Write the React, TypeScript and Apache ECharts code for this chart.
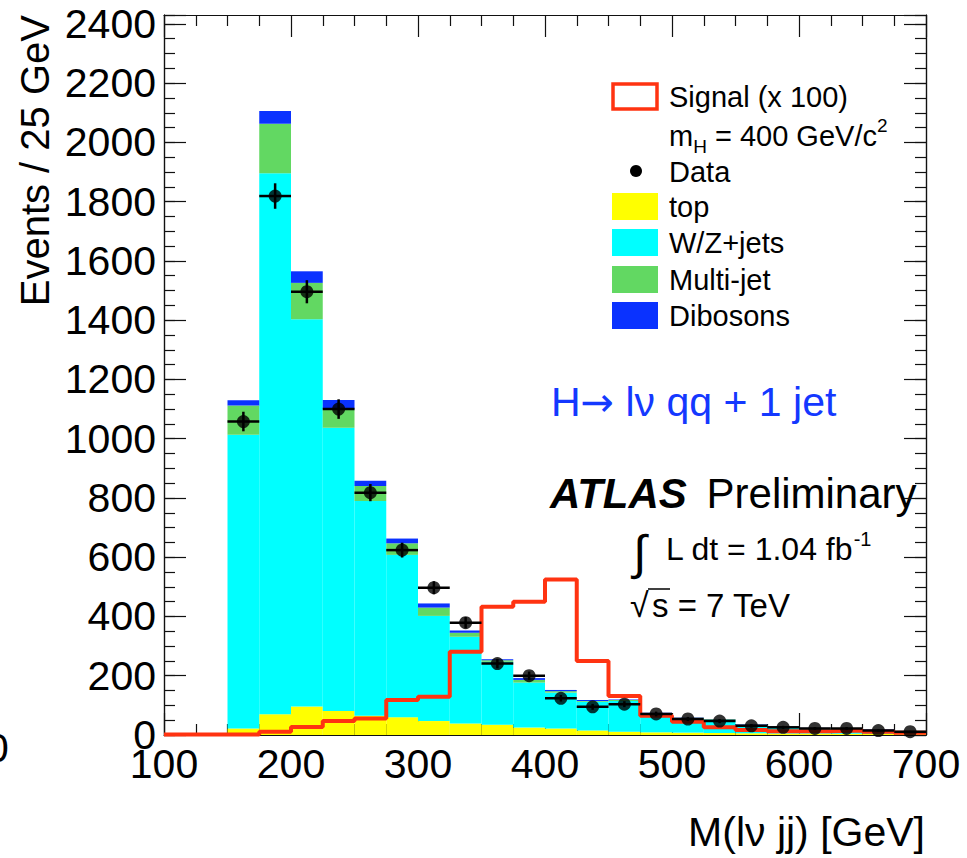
import React, { useEffect, useRef } from "react";
import * as echarts from "echarts";

// Bin left edges (25 GeV bins from 100 to 700)
const binEdges = [100, 125, 150, 175, 200, 225, 250, 275, 300, 325, 350, 375, 400, 425, 450, 475, 500, 525, 550, 575, 600, 625, 650, 675];
const xMax = 700;
const binLabels = binEdges.map(String);

// Stacked backgrounds (events per bin)
const topBg = [0, 0, 22, 70, 96, 81, 65, 60, 47, 39, 35, 25, 22, 15, 11, 9, 8, 7, 6, 5, 5, 4, 4, 3];
const wzJets = [0, 0, 991, 1826, 1307, 956, 725, 548, 355, 293, 212, 152, 121, 97, 104, 62, 48, 44, 28, 21, 17, 18, 13, 6];
const multiJet = [0, 0, 99, 167, 123, 63, 50, 39, 28, 13, 5, 9, 5, 3, 3, 2, 2, 2, 1, 1, 1, 1, 1, 1];
const dibosons = [0, 0, 18, 43, 39, 31, 18, 16, 14, 8, 4, 6, 4, 3, 2, 2, 1, 1, 1, 1, 1, 1, 1, 1];

// Signal (x 100), mH = 400
const signal = [2, 2, 2, 11, 27, 47, 56, 118, 129, 281, 433, 450, 525, 250, 132, 65, 45, 26, 17, 13, 13, 15, 11, 8];

// Data points (bin centres) and their errors
const dataX = [162.5, 187.5, 212.5, 237.5, 262.5, 287.5, 312.5, 337.5, 362.5, 387.5, 412.5, 437.5, 462.5, 487.5, 512.5, 537.5, 562.5, 587.5, 612.5, 637.5, 662.5, 687.5];
const dataY = [1058, 1819, 1496, 1100, 818, 624, 497, 379, 241, 200, 124, 95, 104, 71, 54, 47, 31, 26, 22, 22, 15, 11];
const dataErr = [33, 43, 39, 33, 29, 25, 22, 19, 16, 14, 11, 10, 10, 8, 7, 7, 6, 5, 5, 5, 4, 3];
const halfBin = 12.5;

const yTickLabels = [0, 200, 400, 600, 800, 1000, 1200, 1400, 1600, 1800, 2000, 2200, 2400];

const FONT = '"Liberation Sans", Arial, Helvetica, sans-serif';
const RED = "#ff3311";
const YELLOW = "#ffff00";
const CYAN = "#00ffff";
const GREEN = "#62d862";
const BLUE = "#0a32ff";
const AXIS = "#111";

export default function App() {
  const ref = useRef<HTMLDivElement>(null);
  useEffect(() => {
    if (!ref.current) return;
    const chart = echarts.init(ref.current, undefined, { renderer: "svg" });

    const yAxisBase = (position: string, interval: number, len: number, labels: boolean) => ({
      type: "value",
      min: 0,
      max: 2430,
      interval,
      position,
      axisLine: { show: true, onZero: false, lineStyle: { color: AXIS, width: 1.2 } },
      axisTick: { show: true, inside: true, length: len, lineStyle: { color: AXIS, width: 1.2 } },
      axisLabel: labels
        ? {
            show: true,
            fontSize: 41,
            fontFamily: FONT,
            color: "#000",
            margin: 8,
            formatter: (v: number) => (yTickLabels.indexOf(v) >= 0 ? String(v) : ""),
          }
        : { show: false },
      splitLine: { show: false },
    });

    const xAxisBase = (position: string, labels: boolean) => ({
      type: "value",
      min: 100,
      max: xMax,
      interval: 100,
      position,
      axisLine: { show: true, onZero: false, lineStyle: { color: AXIS, width: 1.2 } },
      axisTick: { show: true, inside: true, length: 22, lineStyle: { color: AXIS, width: 1.2 } },
      minorTick: { show: true, splitNumber: 4, length: 11, lineStyle: { color: AXIS, width: 1.2 } },
      axisLabel: labels
        ? { show: true, fontSize: 41, fontFamily: FONT, color: "#000", margin: 8 }
        : { show: false },
      splitLine: { show: false },
      minorSplitLine: { show: false },
    });

    const legendBox = (y: number, color: string) => ({
      type: "rect",
      shape: { x: 612, y, width: 46, height: 27 },
      style: { fill: color },
    });
    const legendText = (y: number, text: string) => ({
      type: "text",
      x: 669,
      y,
      style: { text, fontSize: 29, fontFamily: FONT, fill: "#000", align: "left", verticalAlign: "middle" },
    });

    const signalLine = signal.map((v, i) => [binEdges[i], v]);
    signalLine.push([xMax, signal[signal.length - 1]]);

    const option: any = {
      animation: false,
      grid: { left: 164, right: 41, top: 15, bottom: 123, containLabel: false },
      xAxis: [
        xAxisBase("bottom", true),
        xAxisBase("top", false),
        { type: "category", data: binLabels, show: false, boundaryGap: true, gridIndex: 0 },
      ],
      yAxis: [
        yAxisBase("left", 200, 22, true),
        yAxisBase("left", 50, 11, false),
        yAxisBase("right", 200, 22, false),
        yAxisBase("right", 50, 11, false),
      ],
      series: [
        { name: "top", type: "bar", stack: "bg", xAxisIndex: 2, yAxisIndex: 0, barCategoryGap: "0%", data: topBg, itemStyle: { color: YELLOW }, z: 2 },
        { name: "W/Z+jets", type: "bar", stack: "bg", xAxisIndex: 2, yAxisIndex: 0, barCategoryGap: "0%", data: wzJets, itemStyle: { color: CYAN }, z: 2 },
        { name: "Multi-jet", type: "bar", stack: "bg", xAxisIndex: 2, yAxisIndex: 0, barCategoryGap: "0%", data: multiJet, itemStyle: { color: GREEN }, z: 2 },
        { name: "Dibosons", type: "bar", stack: "bg", xAxisIndex: 2, yAxisIndex: 0, barCategoryGap: "0%", data: dibosons, itemStyle: { color: BLUE }, z: 2 },
        {
          name: "Signal",
          type: "line",
          xAxisIndex: 0,
          yAxisIndex: 0,
          step: "end",
          symbol: "none",
          data: signalLine,
          lineStyle: { color: RED, width: 4 },
          z: 3,
        },
        {
          name: "DataErr",
          type: "custom",
          xAxisIndex: 0,
          yAxisIndex: 0,
          data: dataX.map((x, i) => [x, dataY[i], dataErr[i]]),
          encode: { x: 0, y: 1 },
          renderItem: (params: any, api: any) => {
            const x = api.value(0);
            const y = api.value(1);
            const e = api.value(2);
            const a = api.coord([x - halfBin, y]);
            const b = api.coord([x + halfBin, y]);
            const c = api.coord([x, y - e]);
            const d = api.coord([x, y + e]);
            return {
              type: "group",
              children: [
                { type: "line", shape: { x1: a[0], y1: a[1], x2: b[0], y2: b[1] }, style: { stroke: "#000", lineWidth: 2.5 } },
                { type: "line", shape: { x1: c[0], y1: c[1], x2: d[0], y2: d[1] }, style: { stroke: "#000", lineWidth: 2.5 } },
              ],
            };
          },
          z: 4,
        },
        {
          name: "Data",
          type: "scatter",
          xAxisIndex: 0,
          yAxisIndex: 0,
          symbol: "circle",
          symbolSize: 13,
          data: dataX.map((x, i) => [x, dataY[i]]),
          itemStyle: { color: "#000" },
          z: 5,
        },
      ],
      graphic: [
        // y axis title
        {
          type: "text",
          x: 35,
          y: 15,
          rotation: Math.PI / 2,
          style: { text: "Events / 25 GeV", fontSize: 40, fontFamily: FONT, fill: "#000", align: "right", verticalAlign: "middle" },
        },
        // x axis title
        {
          type: "text",
          x: 925,
          y: 832,
          style: { text: "M(lν jj) [GeV]", fontSize: 41, fontFamily: FONT, fill: "#000", align: "right", verticalAlign: "middle" },
        },
        // clipped label at the left edge
        {
          type: "text",
          x: -14,
          y: 748,
          style: { text: "0", fontSize: 41, fontFamily: FONT, fill: "#000", align: "left", verticalAlign: "middle" },
        },
        // legend
        {
          type: "rect",
          shape: { x: 613, y: 84, width: 44, height: 25 },
          style: { fill: "#fff", stroke: RED, lineWidth: 3.5 },
        },
        legendText(97, "Signal (x 100)"),
        {
          type: "text",
          x: 669,
          y: 136,
          style: {
            text: "{m|m}{s|H}{n| = 400 GeV/c}{p|2}",
            fontFamily: FONT,
            fill: "#000",
            align: "left",
            verticalAlign: "middle",
            rich: {
              m: { fontSize: 29, fontFamily: FONT, lineHeight: 40, verticalAlign: "middle" },
              s: { fontSize: 19, fontFamily: FONT, lineHeight: 19, verticalAlign: "bottom" },
              n: { fontSize: 29, fontFamily: FONT, lineHeight: 40, verticalAlign: "middle" },
              p: { fontSize: 19, fontFamily: FONT, lineHeight: 19, verticalAlign: "top" },
            },
          },
        },
        { type: "circle", shape: { cx: 636, cy: 171, r: 6 }, style: { fill: "#000" } },
        legendText(172, "Data"),
        legendBox(193, YELLOW),
        legendText(207, "top"),
        legendBox(229, CYAN),
        legendText(243, "W/Z+jets"),
        legendBox(266, GREEN),
        legendText(280, "Multi-jet"),
        legendBox(302, BLUE),
        legendText(316, "Dibosons"),
        // channel label
        {
          type: "text",
          x: 551,
          y: 402,
          style: {
            text: "{a|H}{b|→}{a| lν qq + 1 jet}",
            fill: "#1438ff",
            align: "left",
            verticalAlign: "middle",
            rich: {
              a: { fontSize: 41, fontFamily: FONT, fill: "#1438ff", lineHeight: 48 },
              b: { fontSize: 40, fontFamily: '"DejaVu Sans", sans-serif', fill: "#1438ff", lineHeight: 48 },
            },
          },
        },
        // ATLAS Preliminary
        {
          type: "text",
          x: 550,
          y: 493,
          style: {
            text: "{a|ATLAS}{b| Preliminary}",
            fill: "#000",
            align: "left",
            verticalAlign: "middle",
            rich: {
              a: { fontSize: 42, fontFamily: FONT, fontWeight: "bold", fontStyle: "italic", padding: [0, 8, 0, 0] },
              b: { fontSize: 42, fontFamily: FONT },
            },
          },
        },
        // luminosity
        {
          type: "text",
          x: 633,
          y: 552,
          style: { text: "∫", fontSize: 48, fontFamily: FONT, fill: "#000", align: "left", verticalAlign: "middle" },
        },
        {
          type: "text",
          x: 666,
          y: 549,
          style: {
            text: "{a|L dt = 1.04 fb}{b|-1}",
            fill: "#000",
            align: "left",
            verticalAlign: "middle",
            rich: {
              a: { fontSize: 32, fontFamily: FONT, lineHeight: 40, verticalAlign: "middle" },
              b: { fontSize: 20, fontFamily: FONT, lineHeight: 20, verticalAlign: "top" },
            },
          },
        },
        // sqrt(s)
        {
          type: "text",
          x: 630,
          y: 605,
          style: { text: "√", fontSize: 34, fontFamily: FONT, fill: "#000", align: "left", verticalAlign: "middle" },
        },
        {
          type: "line",
          shape: { x1: 648, y1: 589, x2: 670, y2: 589 },
          style: { stroke: "#000", lineWidth: 1.5 },
        },
        {
          type: "text",
          x: 652,
          y: 605,
          style: { text: "s = 7 TeV", fontSize: 33, fontFamily: FONT, fill: "#000", align: "left", verticalAlign: "middle" },
        },
      ],
    };

    chart.setOption(option);
    return () => chart.dispose();
  }, []);

  return (
    <div
      ref={ref}
      style={{ position: "fixed", left: 0, top: 0, width: 967, height: 858, background: "#fff" }}
    />
  );
}
